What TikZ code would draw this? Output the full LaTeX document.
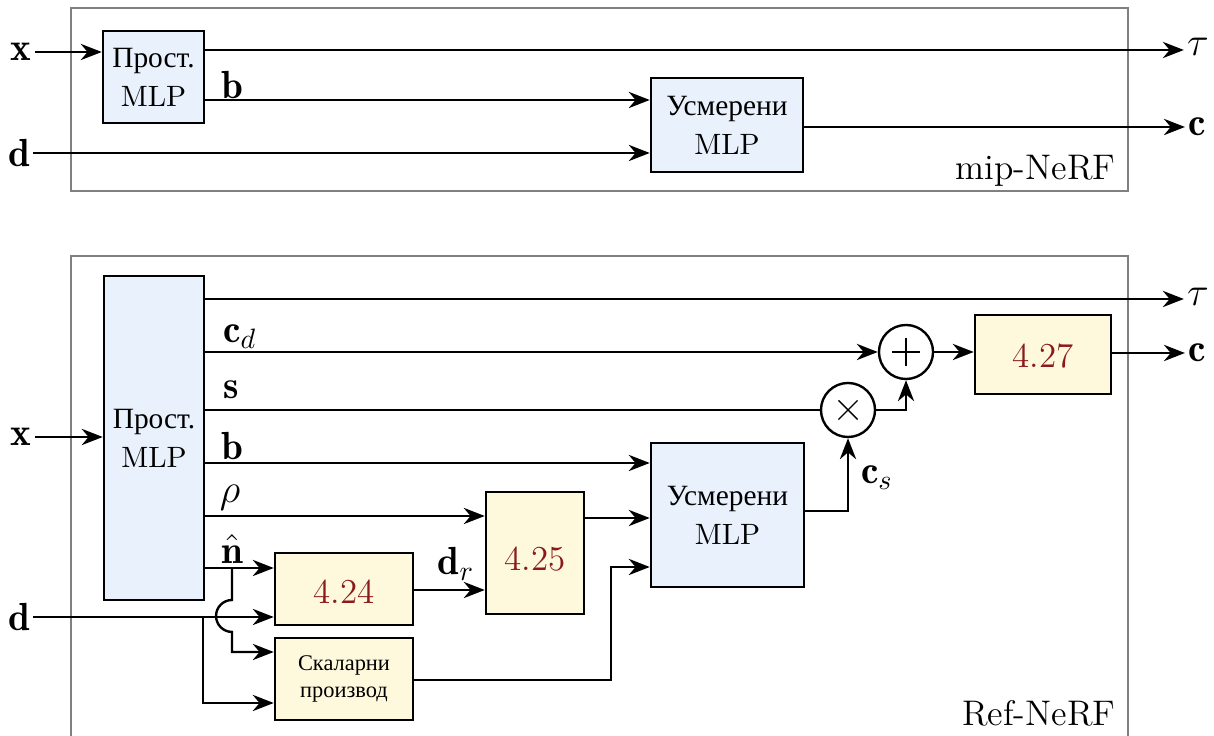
\documentclass[tikz,border=0pt]{standalone}
\usepackage{fontspec}
\newfontfamily\cyr{Liberation Serif}
\usetikzlibrary{arrows.meta,calc}
\definecolor{bluef}{HTML}{E8F1FC}
\definecolor{yelf}{HTML}{FEF8DD}
\definecolor{eqred}{HTML}{8B1A1A}
\definecolor{frameg}{HTML}{808080}
\begin{document}
\begin{tikzpicture}[x=0.3571pt,y=-0.3571pt,
  box/.style={draw, line width=0.9pt, inner sep=0pt, align=center, font=\fontsize{10.5}{14}\selectfont},
  bluebox/.style={box, fill=bluef},
  yelbox/.style={box, fill=yelf},
  eqbox/.style={yelbox, text=eqred, font=\fontsize{12.5}{14}\selectfont},
  eqtext/.style={text=eqred, font=\fontsize{12.5}{14}\selectfont, inner sep=0pt},
  smallbox/.style={yelbox, font=\fontsize{8}{9.5}\selectfont},
  frame/.style={draw=frameg, line width=0.8pt},
  framelab/.style={font=\fontsize{12.7}{14}\selectfont, anchor=base east, inner sep=0pt},
  arr/.style={-{Stealth[length=7.5pt,width=5.8pt]}, line width=0.85pt},
  ln/.style={line width=0.85pt},
  lab/.style={font=\fontsize{14}{16}\selectfont, inner sep=1pt},
  op/.style={circle, draw, line width=0.85pt, minimum size=19.3pt, inner sep=0pt, fill=white},
  opsym/.style={line width=0.5pt}
]
\useasboundingbox (0,0) rectangle (1214,736);

% ---------------- top: mip-NeRF ----------------
\draw[frame] (71,8) rectangle (1128,191);
\node[framelab] (miplab) at (1116,180) {mip-NeRF};

\node[bluebox, minimum width=36.07pt, minimum height=32.85pt] (P1) at (153.5,77) {{\cyr Прост.}\\MLP};
\node[bluebox, minimum width=54.28pt, minimum height=33.57pt] (U1) at (727,125) {{\cyr Усмерени}\\MLP};

\node[lab] (x1) at (21,52) {$\mathbf{x}$};
\node[lab] (d1) at (19,153) {$\mathbf{d}$};
\node[lab] (tau1) at (1198,47) {$\tau$};
\node[lab] (c1) at (1197,127) {$\mathbf{c}$};
\node[lab] (b1) at (232,85) {$\mathbf{b}$};

\draw[arr] (x1.east) -- (x1.east -| P1.west);
\draw[arr] (P1.east |- 0,50) -- (tau1.west |- 0,50);
\draw[arr] (P1.east |- 0,100) -- (U1.west |- 0,100);
\draw[arr] (d1.east) -- (d1.east -| U1.west);
\draw[arr] (U1.east |- 0,127) -- (c1.west |- 0,127);

% ---------------- bottom: Ref-NeRF ----------------
\draw[frame] (71,256) rectangle (1128,748);
\node[framelab] (reflab) at (1116,726) {Ref-NeRF};

\node[bluebox, minimum width=35.71pt, minimum height=115.7pt] (P2) at (154,438) {{\cyr Прост.}\\MLP};
\node[bluebox, minimum width=54.64pt, minimum height=51.42pt] (U2) at (727.5,515) {{\cyr Усмерени}\\MLP};
\node[yelbox, minimum width=48.57pt, minimum height=28.21pt] (E27) at (1043,354.5) {};
\node[eqtext] (t27) at (1043,356) {4.27};
\node[yelbox, minimum width=35pt, minimum height=43.57pt] (E25) at (535,553) {};
\node[eqtext] (t25) at (535,559) {4.25};
\node[yelbox, minimum width=49.28pt, minimum height=25.71pt] (E24) at (344,589) {};
\node[eqtext] (t24) at (344,592) {4.24};
\node[smallbox, minimum width=49.28pt, minimum height=29.28pt] (S) at (344,679) {\cyr Скаларни\\\cyr производ};

\node[op] (plus) at (906,352) {};
\draw[opsym] ($(plus)+(-5pt,0)$) -- ($(plus)+(5pt,0)$) ($(plus)+(0,-5pt)$) -- ($(plus)+(0,5pt)$);
\node[op] (times) at (848,410) {};
\draw[opsym] ($(times)+(-3.4pt,-3.4pt)$) -- ($(times)+(3.4pt,3.4pt)$) ($(times)+(-3.4pt,3.4pt)$) -- ($(times)+(3.4pt,-3.4pt)$);

\node[lab] (x2) at (21,437) {$\mathbf{x}$};
\node[lab] (d2) at (19,617) {$\mathbf{d}$};
\node[lab] (tau2) at (1198,297) {$\tau$};
\node[lab] (c2) at (1197,353) {$\mathbf{c}$};
\node[lab] (cd) at (240,337) {$\mathbf{c}_d$};
\node[lab] (s) at (231,390) {$\mathbf{s}$};
\node[lab] (b2) at (232,446) {$\mathbf{b}$};
\node[lab] (rho) at (230,498) {$\rho$};
\node[lab] (nh) at (232,549) {$\hat{\mathbf{n}}$};
\node[lab] (dr) at (456,564) {$\mathbf{d}_r$};
\node[lab] (cs) at (877,478) {$\mathbf{c}_s$};

\draw[arr] (x2.east) -- (x2.east -| P2.west);
\draw[arr] (P2.east |- 0,299) -- (tau2.west |- 0,299);
\draw[arr] (P2.east |- plus) -- (plus.west);
\draw[ln] (P2.east |- times) -- (times.west);
\draw[arr] (times.east) -| (plus.south);
\draw[arr] (plus.east) -- (E27.west |- plus);
\draw[arr] (E27.east |- 0,353) -- (c2.west |- 0,353);
\draw[arr] (P2.east |- 0,463) -- (U2.west |- 0,463);
\draw[arr] (P2.east |- 0,516) -- (E25.west |- 0,516);
\draw[arr] (E25.east |- 0,518) -- (U2.west |- 0,518);
\draw[arr] (U2.east |- 0,511) -| (times.south);
\draw[arr] (P2.east |- 0,568) -- (E24.west |- 0,568);
\draw[arr] (E24.east |- 0,590) -- (E25.west |- 0,590);
\draw[arr] (d2.east) -- (d2.east -| E24.west);

\coordinate (nb) at (232,568);
\draw[arr] (nb) -- (nb |- 0,600) arc[start angle=90, end angle=270, radius=5.7pt] -- (nb |- 0,652) -- (S.west |- 0,652);
\coordinate (db) at (203,617);
\draw[arr] (db) |- (S.west |- 0,703);
\draw[arr] (S.east |- 0,680) -| (611,567) -- (U2.west |- 0,567);
\end{tikzpicture}
\end{document}
